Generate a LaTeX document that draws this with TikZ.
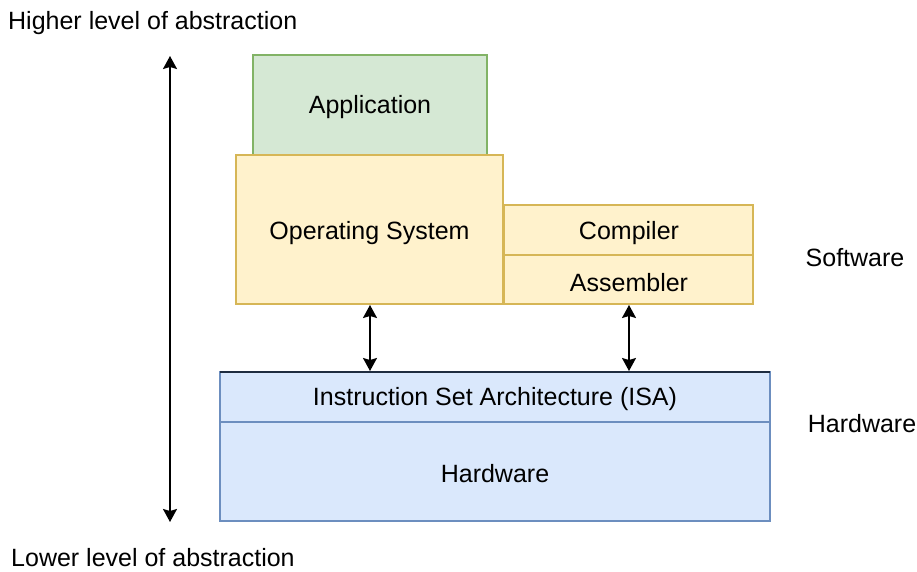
\documentclass[tikz,border=0pt]{standalone}
\usepackage{fontspec}
\setmainfont{Liberation Sans}
\usetikzlibrary{arrows.meta}
\definecolor{appfill}{HTML}{D5E8D4}
\definecolor{appline}{HTML}{82B366}
\definecolor{swfill}{HTML}{FFF2CC}
\definecolor{swline}{HTML}{D6B656}
\definecolor{hwfill}{HTML}{DAE8FC}
\definecolor{hwline}{HTML}{6C8EBF}
\definecolor{hwtop}{HTML}{1F2D40}
\tikzset{
  x=1pt, y=-1pt,
  every node/.style={font=\fontsize{25}{29}\selectfont, inner sep=0pt},
  layer/.style={draw, line width=1.2pt},
  biarrow/.style={line width=1.6pt, {Stealth[length=13pt,width=14pt,inset=2pt]}-{Stealth[length=13pt,width=14pt,inset=2pt]}}
}
\begin{document}
\begin{tikzpicture}
\useasboundingbox (0,0) rectangle (917,572);

% software stack
\draw[layer, fill=appfill, draw=appline] (253,55) rectangle (487,155);
\node (app) at (370,107) {Application};
\draw[layer, fill=swfill, draw=swline] (236,155) rectangle (503,304);
\node (os) at (369.5,233) {Operating System};
\draw[layer, fill=swfill, draw=swline] (504,205) rectangle (753,255);
\node (comp) at (629,233) {Compiler};
\draw[layer, fill=swfill, draw=swline] (504,255) rectangle (753,304);
\node (asm) at (629,283) {Assembler};

% hardware stack
\draw[layer, fill=hwfill, draw=hwline] (220,422) rectangle (770,521);
\draw[layer, fill=hwfill, draw=hwline] (220,372) rectangle (770,422);
\draw[line width=1.2pt, draw=hwtop] (220,372) -- (770,372);
\node (isa) at (495,399) {Instruction Set Architecture (ISA)};
\node (hw) at (495,474) {Hardware};

% interface arrows
\coordinate (osb) at (370,305);
\coordinate (isaL) at (370,371);
\coordinate (asmb) at (629,305);
\coordinate (isaR) at (629,371);
\draw[biarrow] (osb) -- (isaL);
\draw[biarrow] (asmb) -- (isaR);

% abstraction axis
\coordinate (top) at (170,56);
\coordinate (bot) at (170,522);
\draw[biarrow] (top) -- (bot);

% labels
\node[anchor=west] (hi) at (8,23) {Higher level of abstraction};
\node[anchor=base west] (lo) at (11,566) {Lower level of abstraction};
\node (sw) at (855,258) {Software};
\node (hwl) at (862,424) {Hardware};
\end{tikzpicture}
\end{document}
